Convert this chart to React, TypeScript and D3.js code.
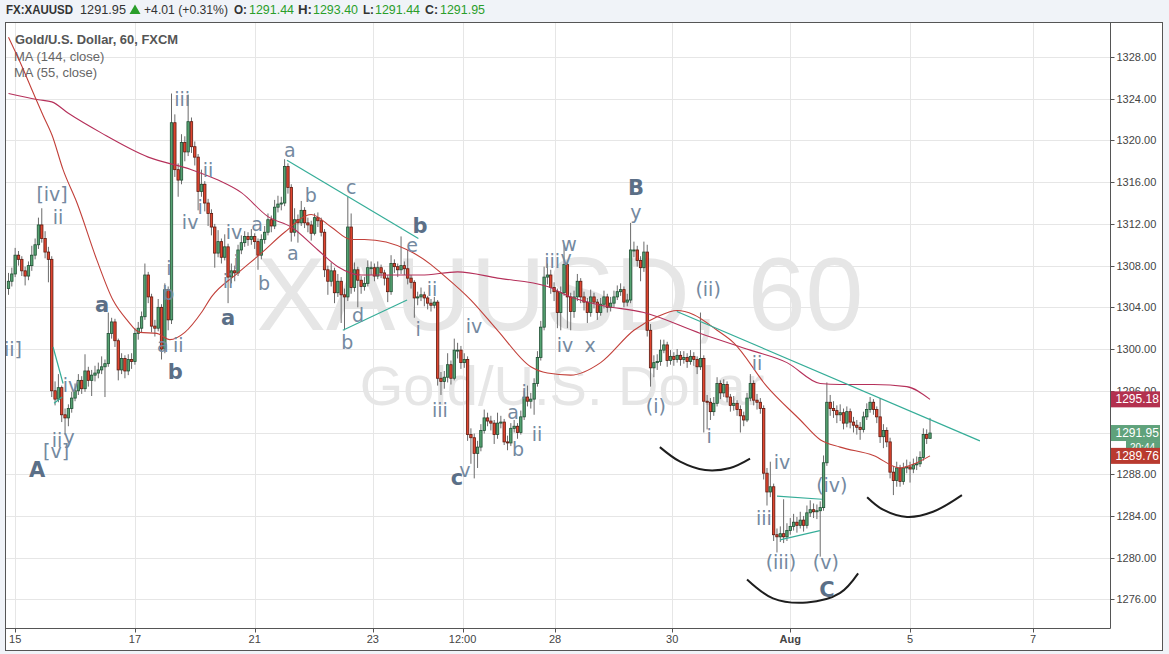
import React from 'react';
import * as d3 from 'd3';

// ---------- DATA ----------
const firstOpen = 1305.8;
const closes = [
  1306.5, 1307.2, 1309.0, 1308.6, 1307.5, 1307.0, 1308.0, 1309.0, 1310.0, 1311.9,
  1310.6, 1309.3, 1308.6, 1296.0, 1295.2, 1296.3, 1293.7, 1293.4, 1294.3, 1295.3,
  1296.0, 1297.0, 1296.2, 1297.9, 1297.0, 1297.5, 1297.7, 1298.0, 1298.3, 1298.6,
  1301.5, 1302.6, 1300.8, 1298.0, 1299.1, 1297.9, 1299.0, 1298.8, 1301.5, 1302.0,
  1303.1, 1307.1, 1305.0, 1302.2, 1302.0, 1304.0, 1300.0, 1305.7, 1302.8, 1321.7,
  1317.2, 1316.2, 1319.8, 1318.9, 1321.8, 1319.4, 1318.4, 1315.1, 1315.8, 1314.0,
  1313.0, 1311.7, 1309.2, 1310.3, 1308.8, 1309.8, 1306.9, 1307.5, 1307.3, 1309.5,
  1310.2, 1310.8, 1310.5, 1310.8, 1310.3, 1309.0, 1310.5, 1311.2, 1312.4, 1311.8,
  1313.6, 1313.9, 1314.0, 1317.5, 1315.5, 1311.2, 1312.4, 1312.1, 1313.3, 1312.1,
  1311.9, 1311.1, 1312.6, 1312.3, 1311.2, 1307.6, 1306.5, 1307.5, 1305.4, 1306.5,
  1305.2, 1305.0, 1311.7, 1305.9, 1307.6, 1306.6, 1306.0, 1306.3, 1307.8, 1307.8,
  1307.0, 1307.8, 1307.3, 1306.8, 1305.5, 1308.2, 1307.9, 1307.6, 1308.0, 1307.7,
  1306.8, 1306.4, 1304.9, 1305.0, 1305.2, 1304.9, 1304.4, 1304.2, 1304.5, 1297.2,
  1296.9, 1297.3, 1298.5, 1297.2, 1299.9, 1299.9, 1298.7, 1299.0, 1291.8, 1291.5,
  1290.0, 1290.6, 1292.2, 1293.4, 1293.1, 1292.9, 1291.8, 1292.9, 1293.0, 1291.1,
  1291.0, 1292.4, 1292.6, 1292.0, 1293.5, 1295.4, 1295.0, 1295.2, 1296.7, 1299.2,
  1302.1, 1306.9, 1307.1, 1305.9, 1305.5, 1303.5, 1305.4, 1308.1, 1305.0, 1303.6,
  1305.0, 1306.5, 1305.0, 1304.5, 1303.5, 1305.0, 1304.5, 1303.5, 1304.3, 1305.0,
  1304.0, 1304.4, 1305.0, 1305.5, 1305.7, 1304.5, 1304.7, 1309.5, 1309.5, 1308.5,
  1307.8, 1309.3, 1301.8, 1298.2, 1298.7, 1298.8, 1299.9, 1300.4, 1298.9, 1299.3,
  1299.0, 1299.4, 1299.0, 1299.2, 1298.8, 1299.3, 1299.0, 1298.3, 1299.1, 1295.0,
  1294.9, 1294.0, 1294.8, 1296.7, 1295.8, 1296.6, 1295.4, 1294.6, 1294.8, 1294.2,
  1293.6, 1293.2, 1295.3, 1296.7, 1295.1, 1294.9, 1294.3, 1288.1, 1286.3, 1286.8,
  1282.2, 1282.0, 1282.3, 1282.0, 1282.6, 1283.0, 1283.4, 1283.1, 1283.6, 1283.1,
  1284.3, 1284.6, 1284.4, 1284.5, 1284.8, 1289.1, 1294.9, 1294.3, 1294.1, 1293.7,
  1293.9, 1292.9, 1294.0, 1293.0, 1292.7, 1292.5, 1292.3, 1293.5, 1294.2, 1294.9,
  1294.2, 1293.5, 1291.6, 1292.2, 1291.1, 1288.2, 1287.4, 1288.6, 1287.3, 1288.6,
  1288.7, 1288.5, 1288.9, 1289.0, 1289.6, 1291.8, 1291.44, 1291.95,
];
const highs = [
  1307.3, 1307.8, 1309.7, 1309.4, 1308.9, 1307.9, 1308.4, 1309.9, 1310.6, 1312.6,
  1313.5, 1311.3, 1309.8, 1308.9, 1296.9, 1297.6, 1296.5, 1294.3, 1294.7, 1295.9,
  1296.7, 1297.6, 1297.4, 1299.5, 1298.3, 1298.0, 1298.4, 1298.7, 1299.3, 1299.0,
  1303.5, 1303.0, 1302.9, 1301.0, 1299.6, 1299.4, 1299.5, 1299.6, 1302.0, 1302.6,
  1303.6, 1308.2, 1307.4, 1305.3, 1302.8, 1304.8, 1304.3, 1306.3, 1306.0, 1324.5,
  1322.5, 1317.8, 1320.6, 1320.4, 1324.4, 1322.2, 1319.9, 1318.7, 1317.2, 1316.1,
  1314.4, 1313.4, 1312.0, 1311.4, 1310.6, 1311.0, 1310.1, 1308.2, 1308.0, 1310.0,
  1310.9, 1311.3, 1311.2, 1311.5, 1311.1, 1310.6, 1311.0, 1311.8, 1313.0, 1312.8,
  1314.3, 1314.7, 1314.6, 1318.2, 1317.8, 1315.8, 1313.5, 1312.9, 1314.2, 1313.6,
  1312.6, 1312.3, 1313.0, 1313.1, 1312.6, 1311.5, 1308.0, 1308.3, 1307.8, 1307.2,
  1306.9, 1305.8, 1314.6, 1313.0, 1308.3, 1307.9, 1307.0, 1306.9, 1308.5, 1308.4,
  1308.2, 1308.4, 1308.1, 1307.6, 1307.1, 1309.0, 1308.6, 1308.2, 1310.8, 1308.4,
  1309.5, 1307.1, 1306.6, 1305.5, 1305.9, 1305.5, 1305.1, 1304.8, 1305.0, 1304.7,
  1297.8, 1297.9, 1299.6, 1298.9, 1301.0, 1300.6, 1300.3, 1299.6, 1299.3, 1292.4,
  1291.9, 1291.2, 1292.8, 1294.2, 1293.9, 1293.6, 1293.2, 1293.9, 1293.6, 1293.3,
  1291.7, 1292.9, 1293.2, 1292.9, 1294.1, 1296.0, 1296.5, 1295.8, 1297.2, 1299.8,
  1302.7, 1307.9, 1308.2, 1307.6, 1306.4, 1305.8, 1306.0, 1310.0, 1308.5, 1305.4,
  1305.6, 1307.2, 1306.8, 1305.5, 1304.9, 1305.7, 1305.4, 1304.8, 1304.9, 1305.6,
  1305.3, 1305.0, 1305.6, 1306.1, 1306.3, 1306.0, 1305.3, 1312.1, 1310.3, 1309.9,
  1308.9, 1310.3, 1310.0, 1302.4, 1299.4, 1299.5, 1300.9, 1300.9, 1300.7, 1299.9,
  1299.7, 1300.0, 1299.8, 1299.8, 1299.6, 1299.9, 1299.7, 1299.3, 1303.5, 1299.4,
  1295.6, 1295.3, 1295.4, 1297.3, 1297.0, 1297.1, 1296.9, 1295.7, 1295.5, 1295.1,
  1294.6, 1294.0, 1295.8, 1297.6, 1297.0, 1295.7, 1295.3, 1294.6, 1288.6, 1289.2,
  1287.1, 1282.8, 1283.0, 1285.6, 1283.3, 1283.8, 1284.2, 1283.9, 1284.4, 1284.0,
  1285.0, 1285.5, 1285.2, 1285.1, 1285.4, 1289.8, 1296.8, 1295.6, 1295.0, 1294.6,
  1294.7, 1294.3, 1294.5, 1294.3, 1293.5, 1293.2, 1293.0, 1294.0, 1294.8, 1295.4,
  1295.2, 1294.5, 1295.3, 1292.8, 1292.5, 1291.5, 1288.8, 1289.2, 1288.9, 1289.1,
  1289.4, 1289.2, 1289.5, 1289.7, 1290.2, 1292.4, 1292.3, 1293.4,
];
const lows = [
  1305.2, 1306.0, 1306.9, 1308.0, 1307.0, 1306.1, 1306.6, 1307.5, 1308.6, 1309.6,
  1310.2, 1308.7, 1306.4, 1295.4, 1294.6, 1294.9, 1293.0, 1291.8, 1292.6, 1293.9,
  1295.0, 1295.6, 1295.7, 1295.9, 1296.4, 1295.5, 1296.9, 1297.2, 1297.6, 1295.4,
  1298.3, 1301.0, 1300.2, 1297.0, 1297.6, 1297.2, 1297.5, 1298.1, 1298.5, 1300.9,
  1301.6, 1302.8, 1304.4, 1301.6, 1301.2, 1301.7, 1299.0, 1299.6, 1301.8, 1302.4,
  1316.5, 1314.6, 1315.8, 1318.0, 1318.5, 1318.8, 1317.6, 1313.3, 1314.6, 1313.2,
  1311.8, 1310.9, 1307.8, 1308.8, 1308.2, 1308.5, 1304.4, 1306.3, 1306.5, 1307.0,
  1309.1, 1309.8, 1309.9, 1310.0, 1309.6, 1307.6, 1308.6, 1310.1, 1310.9, 1311.2,
  1311.5, 1313.1, 1313.3, 1313.7, 1314.9, 1310.3, 1310.8, 1310.2, 1311.8, 1311.6,
  1311.2, 1310.4, 1310.9, 1311.7, 1310.8, 1306.9, 1305.2, 1306.0, 1304.4, 1305.0,
  1302.5, 1301.8, 1304.6, 1305.3, 1305.5, 1304.0, 1305.3, 1305.6, 1306.0, 1307.1,
  1306.5, 1306.7, 1306.8, 1306.1, 1304.5, 1305.2, 1307.3, 1306.9, 1307.2, 1307.1,
  1306.2, 1305.8, 1303.0, 1304.2, 1304.6, 1304.1, 1303.8, 1303.6, 1303.9, 1296.5,
  1295.6, 1296.2, 1296.8, 1296.6, 1297.0, 1299.1, 1298.1, 1298.2, 1291.2, 1289.0,
  1287.6, 1288.6, 1290.2, 1291.9, 1292.6, 1292.2, 1290.9, 1291.4, 1292.4, 1290.8,
  1290.3, 1290.7, 1292.0, 1291.4, 1291.8, 1293.2, 1294.5, 1294.3, 1293.7, 1296.4,
  1298.9, 1301.8, 1306.2, 1305.3, 1304.6, 1302.0, 1301.8, 1305.1, 1302.0, 1301.8,
  1303.0, 1304.6, 1304.4, 1303.7, 1302.5, 1303.1, 1303.9, 1302.8, 1303.2, 1303.9,
  1303.5, 1303.6, 1304.0, 1304.7, 1305.1, 1304.0, 1304.1, 1304.4, 1308.8, 1307.9,
  1306.5, 1307.4, 1301.2, 1296.4, 1297.3, 1298.0, 1298.4, 1299.6, 1298.3, 1298.5,
  1298.4, 1298.7, 1298.4, 1298.6, 1298.2, 1298.5, 1298.4, 1297.6, 1298.0, 1292.0,
  1292.3, 1293.2, 1293.6, 1294.5, 1295.2, 1295.4, 1294.9, 1294.0, 1294.1, 1293.6,
  1292.0, 1292.6, 1293.0, 1295.0, 1294.6, 1294.2, 1293.8, 1287.5, 1285.0, 1285.8,
  1281.6, 1280.5, 1281.5, 1281.4, 1281.6, 1282.2, 1282.6, 1282.4, 1282.8, 1282.5,
  1282.8, 1283.9, 1283.8, 1283.7, 1280.1, 1284.5, 1288.8, 1293.6, 1293.4, 1292.9,
  1293.1, 1292.3, 1292.5, 1292.4, 1292.0, 1291.8, 1291.3, 1292.0, 1293.2, 1293.9,
  1293.7, 1292.9, 1291.0, 1290.5, 1290.6, 1287.6, 1286.0, 1286.8, 1286.8, 1287.0,
  1288.1, 1287.2, 1288.1, 1288.4, 1288.7, 1289.3, 1290.9, 1291.44,
];

// Moving averages (by bar index)
const ma144Idx = [0, 9, 13, 18, 28, 42, 55, 63, 70, 78, 85, 93, 99, 106, 117, 124, 135, 147, 162, 169, 178, 191, 208, 223, 234, 244, 250, 260, 270, 277];
const ma144Val = [1324.5, 1323.9, 1323.7, 1322.6, 1320.7, 1318.4, 1317.2, 1316.2, 1315.0, 1312.7, 1311.7, 1309.5, 1307.9, 1307.1, 1307.1, 1307.1, 1307.4, 1306.8, 1306.0, 1305.0, 1304.2, 1303.5, 1301.5, 1299.9, 1298.7, 1296.7, 1296.6, 1296.6, 1296.4, 1295.18];
const ma55Idx = [0, 3.5, 7.4, 10.4, 13.1, 16.4, 20.6, 26.6, 31.4, 35.6, 39.5, 44.6, 48.5, 53, 58, 61, 69, 76, 83, 91, 97, 103, 107, 120, 127, 130, 139, 147, 157, 162, 169, 178, 188, 195, 201, 206, 213, 218, 228, 238, 244, 250, 260, 268, 273, 277];
const ma55Val = [1329.9, 1327.5, 1324.6, 1322.4, 1320.5, 1317.2, 1314.0, 1308.5, 1304.7, 1302.8, 1301.6, 1301.5, 1300.9, 1301.6, 1303.5, 1305.0, 1307.3, 1309.2, 1311.2, 1312.9, 1311.7, 1310.5, 1310.5, 1309.5, 1308.1, 1307.3, 1304.7, 1301.8, 1298.3, 1297.7, 1297.5, 1298.7, 1301.8, 1303.1, 1303.7, 1303.3, 1301.8, 1300.6, 1296.4, 1293.2, 1291.3, 1290.6, 1289.8, 1288.6, 1289.1, 1289.76];

const priceTicks = [1276, 1280, 1284, 1288, 1292, 1296, 1300, 1304, 1308, 1312, 1316, 1320, 1324, 1328];
const timeTickIdx = [2, 38, 74, 109.5, 136.5, 164.3, 199.5, 235, 271, 308];
const timeTickLabels = ['15', '17', '21', '23', '12:00', '28', '30', 'Aug', '5', '7'];

// Elliott-wave annotations: text, bar index, price
const waveText = ['[iv]', 'ii', 'a', 'iv', 'ii', 'y', '[v]', 'A', 'b', 'ii', 'a', 'b', 'i', 'iii', 'ii', 'i', 'iv', 'iv', 'a', 'i', 'ii', 'a', 'b', 'a', 'b', 'a', 'c', 'b', 'e', 'd', 'b', 'ii', 'i', 'iv', 'iii', 'c', 'v', 'a', 'b', 'i', 'ii', 'iii', 'v', 'w', 'iv', 'x', 'B', 'y', '(ii)', '(i)', 'i', 'ii', 'iv', 'iii', '(iii)', '(iv)', '(v)', 'C'];
const waveIdx = [13.1, 14.9, 28.1, 18.8, 14.6, 18.2, 14.3, 8.6, 50.1, 51.0, 46.4, 48.0, 48.2, 52.2, 60.0, 57.6, 54.6, 67.8, 74.7, 68.4, 66.0, 66.0, 76.8, 84.6, 90.9, 85.5, 103.0, 123.7, 121.3, 105.1, 101.8, 127.3, 123.1, 139.9, 129.7, 134.8, 137.2, 151.7, 153.2, 155.0, 158.9, 163.4, 167.6, 168.5, 167.3, 174.8, 188.6, 188.6, 210.3, 194.6, 210.6, 225.0, 232.5, 227.1, 232.2, 247.5, 245.7, 246.0];
const wavePrice = [1314.9, 1312.7, 1304.2, 1296.6, 1291.3, 1291.6, 1290.2, 1288.4, 1297.8, 1300.4, 1300.4, 1305.4, 1307.8, 1324.0, 1317.2, 1313.6, 1312.2, 1311.2, 1312.0, 1308.3, 1306.5, 1303.0, 1306.3, 1319.1, 1314.8, 1309.2, 1315.5, 1311.8, 1310.0, 1303.3, 1300.7, 1305.8, 1301.9, 1302.2, 1294.2, 1287.6, 1288.4, 1294.0, 1290.4, 1295.9, 1291.9, 1308.4, 1308.7, 1310.1, 1300.4, 1300.4, 1315.4, 1313.1, 1305.8, 1294.5, 1291.7, 1298.7, 1289.2, 1283.8, 1279.6, 1287.0, 1279.6, 1276.9];
const waveBoldAt = [2, 7, 8, 21, 27, 35, 46, 57];

// Trend lines drawn on the chart: [i1, p1, i2, p2]
const trendLines = [
  [83.7, 1318.1, 123.2, 1310.6],
  [100.5, 1301.8, 119.8, 1304.7],
  [13.4, 1300.2, 16.4, 1296.7],
  [13.7, 1294.8, 16.1, 1295.4],
  [200.9, 1303.6, 292.0, 1291.2],
  [231.0, 1285.9, 244.5, 1285.6],
  [231.9, 1281.7, 243.9, 1282.6],
];
// Hand-drawn arcs: bar index / price pairs
const arcIdx = [
  [195.8, 201.9, 209.4, 216.9, 222.9],
  [222.0, 229.8, 240.0, 249.9, 255.4],
  [258.1, 262.9, 270.1, 277.9, 286.6],
];
const arcPrice = [
  [1290.6, 1289.2, 1288.4, 1288.6, 1289.5],
  [1277.9, 1276.1, 1275.7, 1276.6, 1278.5],
  [1285.8, 1284.6, 1283.9, 1284.4, 1286.0],
];

export default function App() {
  const W = 1169, H = 654;
  const L = 5.5, R = 1110.5, T = 22.5, B = 628.5, FB = 650.5, FR = 1162.5;
  const n = closes.length;
  const x = d3.scaleLinear().domain([0, n - 1]).range([8.5, 930]);
  const y = d3.scaleLinear().domain([1276, 1328]).range([599.4, 57]);
  const opens = closes.map((c, i) => (i === 0 ? firstOpen : closes[i - 1]));

  const maLine = d3.line<[number, number]>().x(d => x(d[0])).y(d => y(d[1])).curve(d3.curveMonotoneX);
  const arcLine = d3.line<[number, number]>().x(d => x(d[0])).y(d => y(d[1])).curve(d3.curveCatmullRom.alpha(0.5));

  const ma144 = maLine(ma144Idx.map((v, k) => [v, ma144Val[k]] as [number, number]));
  const ma55 = maLine(ma55Idx.map((v, k) => [v, ma55Val[k]] as [number, number]));

  const upFill = '#56a372', upStroke = '#1f4f33';
  const dnFill = '#e0452f', dnStroke = '#5e1a10';
  const bw = 2.4;
  const axisFont = '"Liberation Sans", Arial, sans-serif';
  const labelFont = '"DejaVu Sans", Verdana, sans-serif';
  const green = '#2a9e2a';

  const lastMa144 = ma144Val[ma144Val.length - 1];
  const lastMa55 = ma55Val[ma55Val.length - 1];
  const lastClose = closes[n - 1];

  const hdr = (t: string, xx: number, len: number, opts: any = {}) => (
    <text x={xx} y={14} textLength={len} lengthAdjust="spacingAndGlyphs" {...opts}>{t}</text>
  );

  return (
    <svg width={W} height={H} style={{ position: 'absolute', left: 0, top: 0, display: 'block' }} xmlns="http://www.w3.org/2000/svg">
      <defs>
        <clipPath id="plotClip"><rect x={L} y={T} width={R - L} height={B - T} /></clipPath>
      </defs>
      <rect x={0} y={0} width={W} height={H} fill="#f0f3f8" />
      <rect x={L} y={T} width={FR - L} height={FB - T} fill="#ffffff" />

      {/* header */}
      <g fontFamily={axisFont} fontSize={13} fill="#333">
        {hdr('FX:XAUUSD', 6, 67, { fontWeight: 'bold' })}
        {hdr(lastClose.toFixed(2), 80, 46)}
        <path d="M129.5,14 L135,4.5 L140.5,14 Z" fill={green} />
        {hdr('+4.01 (+0.31%)', 144, 84)}
        {hdr('O:', 234, 13, { fontWeight: 'bold' })}
        {hdr('1291.44', 249, 45, { fill: green })}
        {hdr('H:', 298, 14, { fontWeight: 'bold' })}
        {hdr('1293.40', 313, 45, { fill: green })}
        {hdr('L:', 363, 11, { fontWeight: 'bold' })}
        {hdr('1291.44', 375, 45, { fill: green })}
        {hdr('C:', 425, 13, { fontWeight: 'bold' })}
        {hdr('1291.95', 440, 45, { fill: green })}
      </g>

      {/* grid */}
      <g stroke="#e6e6e6" strokeWidth={1}>
        {priceTicks.map(p => (
          <line key={'h' + p} x1={L} x2={R} y1={Math.round(y(p)) + 0.5} y2={Math.round(y(p)) + 0.5} />
        ))}
        {timeTickIdx.map((t, k) => (
          <line key={'v' + k} x1={Math.round(x(t)) + 0.5} x2={Math.round(x(t)) + 0.5} y1={T} y2={B} />
        ))}
      </g>

      <g clipPath="url(#plotClip)">
        {/* watermark */}
        <text x={560} y={330} textAnchor="middle" fontFamily={axisFont} fontSize={104} fill="#e6e6e6">XAUUSD, 60</text>
        <text x={562} y={405} textAnchor="middle" fontFamily={axisFont} fontSize={56} fill="#e6e6e6">Gold/U.S. Dollar</text>

        {/* legend */}
        <g fontFamily={axisFont} fontSize={13}>
          <text x={15} y={44} fontWeight="bold" fill="#555" textLength={163} lengthAdjust="spacingAndGlyphs">Gold/U.S. Dollar, 60, FXCM</text>
          <text x={14} y={61} fill="#666">MA (144, close)</text>
          <text x={14} y={77} fill="#666">MA (55, close)</text>
        </g>

        {/* candles */}
        {closes.map((c, i) => {
          const o = opens[i];
          const up = c >= o;
          const cx = x(i);
          const yTop = y(Math.max(o, c));
          const yBot = y(Math.min(o, c));
          return (
            <g key={i}>
              <line x1={cx} x2={cx} y1={y(highs[i])} y2={y(lows[i])} stroke="#6b6b6b" strokeWidth={1} />
              <rect x={cx - bw / 2} y={yTop} width={bw} height={Math.max(1, yBot - yTop)}
                fill={up ? upFill : dnFill} stroke={up ? upStroke : dnStroke} strokeWidth={0.8} />
            </g>
          );
        })}

        {/* moving averages */}
        <path d={ma144 || ''} fill="none" stroke="#b5305a" strokeWidth={1.1} />
        <path d={ma55 || ''} fill="none" stroke="#c2403a" strokeWidth={1.1} />

        {/* trend lines */}
        {trendLines.map((t, k) => (
          <line key={'t' + k} x1={x(t[0])} y1={y(t[1])} x2={x(t[2])} y2={y(t[3])} stroke="#35ad98" strokeWidth={1.2} />
        ))}

        {/* arcs */}
        {arcIdx.map((a, k) => (
          <path key={'a' + k} d={arcLine(a.map((v, j) => [v, arcPrice[k][j]] as [number, number])) || ''}
            fill="none" stroke="#1e1e1e" strokeWidth={2} />
        ))}

        {/* wave labels */}
        {waveText.map((t, k) => {
          const bold = waveBoldAt.includes(k);
          return (
            <text key={'w' + k} x={x(waveIdx[k])} y={y(wavePrice[k])} textAnchor="middle" dominantBaseline="central"
              fontFamily={labelFont} fontSize={bold ? 21 : 19} fontWeight={bold ? 'bold' : 'normal'}
              fill={bold ? '#5b6f87' : '#7489a0'}>{t}</text>
          );
        })}
        <text x={x(4.06)} y={y(1300.0)} textAnchor="end" dominantBaseline="central" fontFamily={labelFont} fontSize={19} fill="#7489a0">[ii]</text>
      </g>

      {/* frame */}
      <g fill="none" stroke="#555" strokeWidth={1}>
        <rect x={L} y={T} width={FR - L} height={FB - T} />
        <line x1={R} x2={R} y1={T} y2={B} />
        <line x1={L} x2={R} y1={B} y2={B} />
      </g>

      {/* price axis */}
      <g fontFamily={axisFont} fontSize={11} fill="#444">
        {priceTicks.map(p => (
          <g key={'p' + p}>
            <line x1={R} x2={R + 4} y1={Math.round(y(p)) + 0.5} y2={Math.round(y(p)) + 0.5} stroke="#555" />
            <text x={R + 6} y={y(p)} dominantBaseline="central">{p.toFixed(2)}</text>
          </g>
        ))}
      </g>

      {/* time axis */}
      <g fontFamily={axisFont} fontSize={11} fill="#444">
        {timeTickIdx.map((t, k) => (
          <g key={'tt' + k}>
            <line x1={Math.round(x(t)) + 0.5} x2={Math.round(x(t)) + 0.5} y1={B} y2={B + 4} stroke="#555" />
            <text x={x(t)} y={639} textAnchor="middle" dominantBaseline="central" fontWeight={timeTickLabels[k] === 'Aug' ? 'bold' : 'normal'}>{timeTickLabels[k]}</text>
          </g>
        ))}
      </g>

      {/* last-value tags */}
      <g fontFamily={axisFont} fontSize={12}>
        <rect x={R + 0.5} y={y(lastMa144) - 8} width={49} height={16} fill="#b3314f" />
        <text x={R + 5} y={y(lastMa144)} dominantBaseline="central" fill="#fff">{lastMa144.toFixed(2)}</text>
        <rect x={R + 0.5} y={y(lastClose) - 8} width={49} height={16} fill="#5fa27b" />
        <text x={R + 5} y={y(lastClose)} dominantBaseline="central" fill="#fff">{lastClose.toFixed(2)}</text>
        <rect x={1126} y={y(lastClose) + 8} width={34} height={12} fill="#5fa27b" />
        <text x={1130} y={y(lastClose) + 14} dominantBaseline="central" fill="#fff" fontSize={10}>20:44</text>
        <rect x={R + 0.5} y={y(lastMa55) - 8} width={49} height={16} fill="#b93a2f" />
        <text x={R + 5} y={y(lastMa55)} dominantBaseline="central" fill="#fff">{lastMa55.toFixed(2)}</text>
      </g>
    </svg>
  );
}
